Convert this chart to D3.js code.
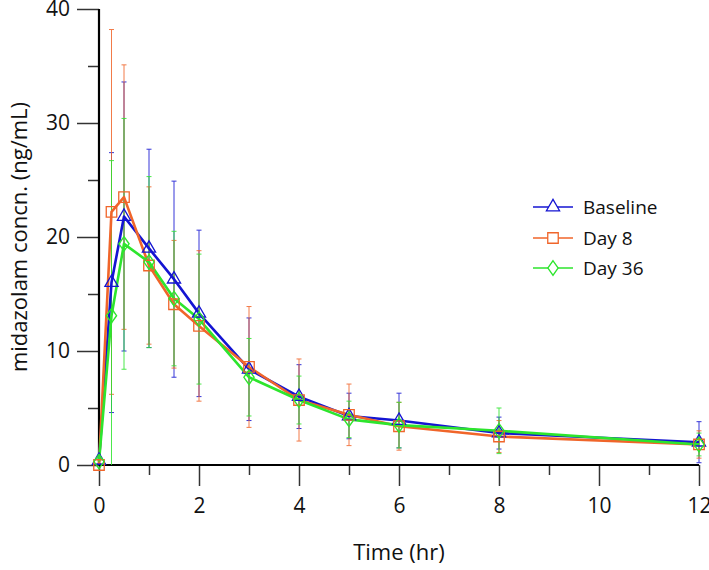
<!DOCTYPE html>
<html>
<head>
<meta charset="utf-8">
<script src="https://cdn.jsdelivr.net/npm/d3@7"></script>
<style>
  html, body { margin: 0; padding: 0; background: #fff; }
  svg { display: block; font-family: "Open Sans", "Noto Sans", sans-serif; }
</style>
</head>
<body>
<svg id="chart" width="709" height="570"></svg>
<script>
// ---- data ----
const time = [0, 0.25, 0.5, 1, 1.5, 2, 3, 4, 5, 6, 8, 12];
const baseline   = [0.4, 16.0, 21.8, 19.0, 16.3, 13.3, 8.4, 6.0, 4.3, 3.9, 2.8, 2.0];
const baselineSD = [0.3, 11.4, 11.8, 8.7, 8.6, 7.3, 4.5, 2.8, 2.0, 2.4, 1.4, 1.8];
const day8       = [0.0, 22.2, 23.5, 17.5, 14.1, 12.2, 8.6, 5.7, 4.4, 3.4, 2.5, 1.8];
const day8SD     = [0.0, 16.0, 11.6, 6.9, 5.6, 6.6, 5.3, 3.6, 2.7, 2.1, 1.4, 1.2];
const day36      = [0.3, 13.1, 19.4, 17.8, 14.6, 12.8, 7.7, 5.7, 4.0, 3.5, 3.0, 1.8];
const day36SD    = [0.3, 13.6, 11.0, 7.5, 5.9, 5.7, 3.4, 2.1, 1.6, 2.0, 2.0, 1.0];
const seriesNames = ["Baseline", "Day 8", "Day 36"];
const xMajorTicks = [0, 2, 4, 6, 8, 10, 12];
const xMinorTicks = [1, 3, 5, 7, 9, 11];
const yMajorTicks = [0, 10, 20, 30, 40];
const yMinorTicks = [5, 15, 25, 35];

// ---- styles ----
const colors = ["#1414d2", "#f0652a", "#2de52d"];
const symbols = [d3.symbolTriangle, d3.symbolSquare, d3.symbolDiamond];
const symSizes = [75, 110, 75];

const series = [
  { name: seriesNames[0], mean: baseline, sd: baselineSD },
  { name: seriesNames[1], mean: day8, sd: day8SD },
  { name: seriesNames[2], mean: day36, sd: day36SD }
];

const svg = d3.select("#chart");
const x = d3.scaleLinear().domain([0, 12]).range([99, 699]);
const y = d3.scaleLinear().domain([0, 40]).range([465, 9]);

// ---- axes ----
const gy = svg.append("g").attr("transform", "translate(99,0)");
gy.call(d3.axisLeft(y).tickValues(yMajorTicks).tickSize(22).tickPadding(7).tickSizeOuter(0))
  .call(g => g.select(".domain").remove());
gy.append("g").call(d3.axisLeft(y).tickValues(yMinorTicks).tickSize(11).tickFormat("").tickSizeOuter(0))
  .call(g => g.select(".domain").remove());
gy.selectAll("text").attr("font-size", 21).attr("fill", "#111").attr("font-family", "Open Sans");
gy.selectAll("line").attr("stroke", "#333").attr("stroke-width", 1.5);

const gx = svg.append("g").attr("transform", "translate(0,465)");
gx.call(d3.axisBottom(x).tickValues(xMajorTicks).tickSize(21).tickPadding(12).tickSizeOuter(0))
  .call(g => g.select(".domain").remove());
gx.append("g").call(d3.axisBottom(x).tickValues(xMinorTicks).tickSize(10).tickFormat("").tickSizeOuter(0))
  .call(g => g.select(".domain").remove());
gx.selectAll("text").attr("font-size", 21).attr("fill", "#111").attr("font-family", "Open Sans");
gx.selectAll("line").attr("stroke", "#333").attr("stroke-width", 1.5);

// axis lines
svg.append("line").attr("x1", x(0)).attr("x2", x(0)).attr("y1", y(40)).attr("y2", y(0))
  .attr("stroke", "#000").attr("stroke-width", 2.2);
svg.append("line").attr("x1", x(0)).attr("x2", x(12)).attr("y1", y(0)).attr("y2", y(0))
  .attr("stroke", "#000").attr("stroke-width", 2.2);

// axis titles
svg.append("text").attr("x", x(6)).attr("y", 560).attr("text-anchor", "middle")
  .attr("font-size", 22).attr("fill", "#111").text("Time (hr)");
svg.append("text").attr("transform", `translate(27,${(y(0) + y(40)) / 2}) rotate(-90)`)
  .attr("text-anchor", "middle").attr("font-size", 22).attr("fill", "#111")
  .text("midazolam concn. (ng/mL)");

// ---- error bars ----
const capW = 2.5;
series.forEach((s, si) => {
  const g = svg.append("g").attr("stroke", colors[si]).attr("stroke-width", 1).attr("opacity", 0.85);
  time.forEach((t, i) => {
    const sd = s.sd[i];
    if (sd <= 0) return;
    const hi = s.mean[i] + sd, lo = Math.max(0, s.mean[i] - sd);
    const cx = x(t);
    g.append("line").attr("x1", cx).attr("x2", cx).attr("y1", y(lo)).attr("y2", y(hi));
    g.append("line").attr("x1", cx - capW).attr("x2", cx + capW).attr("y1", y(hi)).attr("y2", y(hi));
    if (s.mean[i] - sd > 0)
      g.append("line").attr("x1", cx - capW).attr("x2", cx + capW).attr("y1", y(lo)).attr("y2", y(lo));
  });
});

// ---- lines ----
const line = d3.line().x(d => x(d[0])).y(d => y(d[1]));
series.forEach((s, si) => {
  svg.append("path").datum(time.map((t, i) => [t, s.mean[i]]))
    .attr("d", line).attr("fill", "none").attr("stroke", colors[si]).attr("stroke-width", 2.6)
    .attr("stroke-linejoin", "round");
});

// ---- markers ----
series.forEach((s, si) => {
  const sym = d3.symbol().type(symbols[si]).size(symSizes[si]);
  svg.append("g").selectAll("path").data(time.map((t, i) => [t, s.mean[i]])).join("path")
    .attr("transform", d => `translate(${x(d[0])},${y(d[1])})` + (si === 2 ? " scale(1.1,0.9)" : ""))
    .attr("d", sym).attr("fill", "none").attr("stroke", colors[si]).attr("stroke-width", 1.3);
});

// ---- legend ----
const legY = [207, 238, 268];
series.forEach((s, si) => {
  const g = svg.append("g").attr("transform", `translate(0,${legY[si]})`);
  g.append("line").attr("x1", 533).attr("x2", 573).attr("y1", 0).attr("y2", 0)
    .attr("stroke", colors[si]).attr("stroke-width", 1.6);
  g.append("path").attr("d", d3.symbol().type(symbols[si]).size(symSizes[si])())
    .attr("transform", "translate(553,0)" + (si === 2 ? " scale(1.1,0.9)" : ""))
    .attr("fill", "#fff").attr("stroke", colors[si]).attr("stroke-width", 1.3);
  g.append("text").attr("x", 583).attr("y", 0).attr("dy", "0.35em")
    .attr("font-size", 19).attr("fill", "#111").text(s.name);
});
</script>
</body>
</html>
